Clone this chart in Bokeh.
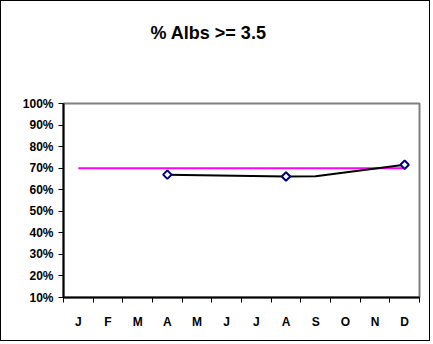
import numpy as np
from bokeh.plotting import figure
from bokeh.models import FixedTicker, NumeralTickFormatter, Range1d, Title
from bokeh.embed import file_html
from bokeh.resources import INLINE

months = ["J", "F", "M", "A", "M", "J", "J", "A", "S", "O", "N", "D"]
actual = [None, None, None, 0.670, None, None, None, 0.661, 0.663, None, None, 0.716]
marked = [None, None, None, 0.670, None, None, None, 0.661, None, None, None, 0.716]
target = [0.70] * 12
y_ticks = [0.1, 0.2, 0.3, 0.4, 0.5, 0.6, 0.7, 0.8, 0.9, 1.0]
title_text = "% Albs >= 3.5"

FONT = "Liberation Sans"

p = figure(width=430, height=341, output_backend="svg", toolbar_location=None,
           x_range=Range1d(0, 12), y_range=Range1d(0.1, 1.0),
           min_border_left=62, min_border_right=12, min_border_top=102, min_border_bottom=45,
           styles={"border": "1px solid black", "margin": "0"})
p.xgrid.visible = False
p.ygrid.visible = False
p.outline_line_color = "#808080"
p.outline_line_width = 2
p.background_fill_color = "white"
p.border_fill_color = "white"

title = Title(text=title_text, align="left", offset=87, standoff=8,
              text_font=FONT, text_font_style="bold", text_font_size="18px",
              text_color="black")
spacer = Title(text=" ", standoff=54, text_font_size="1px")
p.above = [spacer, title]

centers = [i + 0.5 for i in range(len(months))]

# axes
xa = p.xaxis[0]
xa.ticker = FixedTicker(ticks=centers, minor_ticks=list(range(len(months) + 1)))
xa.major_label_overrides = {c: m for c, m in zip(centers, months)}
xa.major_tick_out = 0
xa.major_tick_in = 0
xa.minor_tick_out = 5
xa.minor_tick_in = 0
xa.minor_tick_line_color = "black"
xa.axis_line_color = "black"
xa.axis_line_width = 2
xa.major_label_standoff = 12
xa.major_label_text_font = FONT
xa.major_label_text_font_style = "bold"
xa.major_label_text_font_size = "12px"
xa.major_label_text_color = "black"

ya = p.yaxis[0]
ya.ticker = FixedTicker(ticks=y_ticks)
ya.formatter = NumeralTickFormatter(format="0%")
ya.major_tick_out = 5
ya.major_tick_in = 0
ya.minor_tick_out = 0
ya.minor_tick_in = 0
ya.major_tick_line_color = "black"
ya.axis_line_color = "black"
ya.axis_line_width = 2
ya.major_label_standoff = 5
ya.major_label_text_font = FONT
ya.major_label_text_font_style = "bold"
ya.major_label_text_font_size = "12px"
ya.major_label_text_color = "black"

# target line
p.line(centers, target, line_color="#FF00FF", line_width=2)

# actual line (connect available points)
ax = [c for c, v in zip(centers, actual) if v is not None]
ay = [v for v in actual if v is not None]
p.line(ax, ay, line_color="black", line_width=2)

mx = [c for c, v in zip(centers, marked) if v is not None]
my = [v for v in marked if v is not None]
p.scatter(mx, my, marker="square", angle=np.pi / 4, size=6,
          fill_color="white", line_color="#000080", line_width=2)

open("out.html", "w").write(file_html(p, INLINE))
